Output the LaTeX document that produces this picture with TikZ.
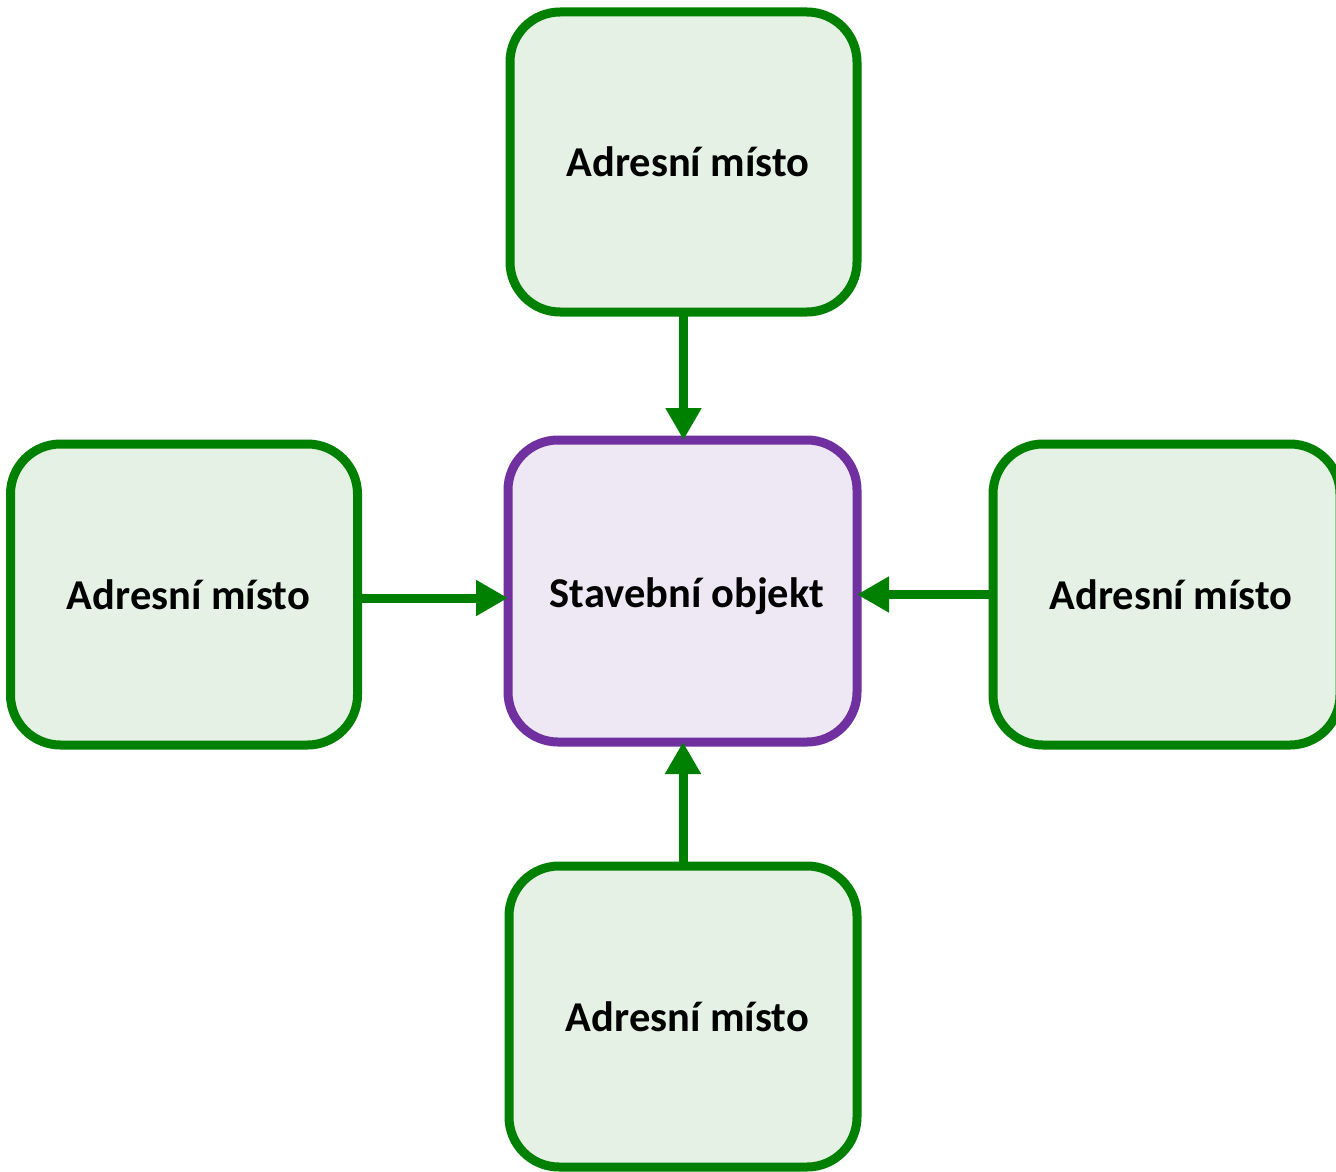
\documentclass[tikz,border=0pt]{standalone}
\usepackage{fontspec}
\setmainfont{Carlito}
\usetikzlibrary{arrows.meta}
\definecolor{gline}{HTML}{008000}
\definecolor{gfill}{HTML}{E4F1E4}
\definecolor{pline}{HTML}{7030A0}
\definecolor{pfill}{HTML}{EEE8F4}
\newcommand{\shifted}[1]{\hspace*{9pt}#1}
\tikzset{
  box/.style={rectangle, rounded corners=50pt, line width=9pt, outer sep=0pt,
    minimum width=347pt, minimum height=300pt, inner sep=0pt,
    font=\fontsize{42.5}{50}\selectfont\bfseries, text=black},
  gbox/.style={box, draw=gline, fill=gfill},
  pbox/.style={box, draw=pline, fill=pfill},
  arr/.style={draw=gline, line width=9pt, -{Triangle[length=32pt,width=34pt]}}
}
\begin{document}
\begin{tikzpicture}[x=1pt,y=-1pt]
\useasboundingbox (0,0) rectangle (1336,1172);
\node[pbox, minimum width=349pt, minimum height=302pt] (mid) at (682.5,591) {\shifted{\raisebox{-5pt}[\height][\depth]{Stavební objekt}}};
\node[gbox] (top) at (683.5,162) {\shifted{Adresní místo}};
\node[gbox, minimum width=347pt, minimum height=301pt] (left) at (184,594.5) {\shifted{Adresní místo}};
\node[gbox, minimum width=347pt, minimum height=301pt] (right) at (1166.5,594.5) {\shifted{Adresní místo}};
\node[gbox, minimum width=348pt, minimum height=301pt] (bot) at (683,1016.5) {\shifted{Adresní místo}};
\draw[arr] (top.south) -- (top.south |- mid.north);
\draw[arr] ([yshift=-3.5pt]left.east) -- ([yshift=-3.5pt]left.east -| mid.west);
\draw[arr] (right.west) -- (right.west -| mid.east);
\draw[arr] (bot.north) -- (bot.north |- mid.south);
\end{tikzpicture}
\end{document}
